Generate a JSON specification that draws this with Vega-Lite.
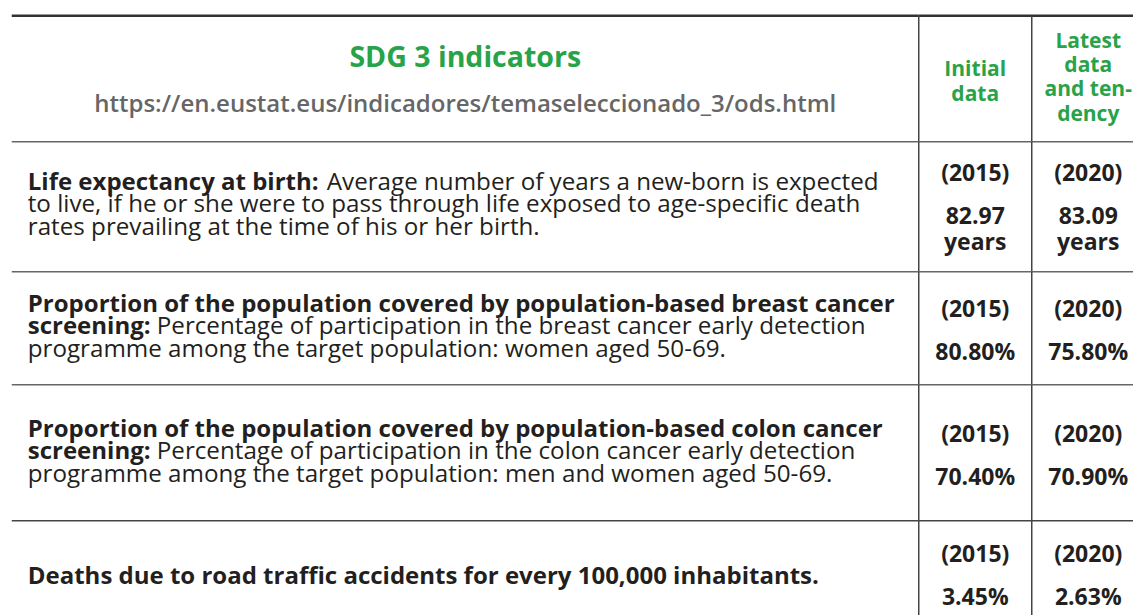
{
  "$schema": "https://vega.github.io/schema/vega-lite/v6.json",
  "background": "white",
  "padding": {"left": 9.75, "top": 13.75, "right": 0, "bottom": 0},
  "autosize": {"type": "pad"},
  "spacing": 0,
  "bounds": "flush",
  "columns": 2,
  "config": {"view": {"stroke": null}, "text": {"font": "Open Sans"}},
  "datasets": {
    "header": [
      {"line": 1, "text": "SDG 3 indicators"},
      {"line": 2, "text": "https://en.eustat.eus/indicadores/temaseleccionado_3/ods.html"}
    ],
    "columns": [
      {"col": "initial", "label": "Initial\ndata"},
      {"col": "latest", "label": "Latest\ndata\nand ten-\ndency"}
    ],
    "indicators": [
      {"row": 1, "line": 1, "part": "name", "text": "Life expectancy at birth:"},
      {"row": 1, "line": 1, "part": "desc", "text": "Average number of years a new-born is expected"},
      {"row": 1, "line": 2, "part": "desc", "text": "to live, if he or she were to pass through life exposed to age-specific death"},
      {"row": 1, "line": 3, "part": "desc", "text": "rates prevailing at the time of his or her birth."},
      {"row": 2, "line": 1, "part": "name", "text": "Proportion of the population covered by population-based breast cancer"},
      {"row": 2, "line": 2, "part": "name", "text": "screening:"},
      {"row": 2, "line": 2, "part": "desc", "text": "Percentage of participation in the breast cancer early detection"},
      {"row": 2, "line": 3, "part": "desc", "text": "programme among the target population: women aged 50-69."},
      {"row": 3, "line": 1, "part": "name", "text": "Proportion of the population covered by population-based colon cancer"},
      {"row": 3, "line": 2, "part": "name", "text": "screening:"},
      {"row": 3, "line": 2, "part": "desc", "text": "Percentage of participation in the colon cancer early detection"},
      {"row": 3, "line": 3, "part": "desc", "text": "programme among the target population: men and women aged 50-69."},
      {"row": 4, "line": 1, "part": "name", "text": "Deaths due to road traffic accidents for every 100,000 inhabitants."}
    ],
    "values": [
      {"row": 1, "col": "initial", "year": "(2015)", "value": "82.97 years"},
      {"row": 1, "col": "latest", "year": "(2020)", "value": "83.09 years"},
      {"row": 2, "col": "initial", "year": "(2015)", "value": "80.80%"},
      {"row": 2, "col": "latest", "year": "(2020)", "value": "75.80%"},
      {"row": 3, "col": "initial", "year": "(2015)", "value": "70.40%"},
      {"row": 3, "col": "latest", "year": "(2020)", "value": "70.90%"},
      {"row": 4, "col": "initial", "year": "(2015)", "value": "3.45%"},
      {"row": 4, "col": "latest", "year": "(2020)", "value": "2.63%"}
    ]
  },
  "concat": [
    {
      "width": 907, "height": 126,
      "layer": [
        {"data": {"values": [{"edge": "top"}]}, "mark": {"type": "rule", "stroke": "#333333", "strokeWidth": 2.5},
         "encoding": {"y": {"datum": -0.1333, "type": "quantitative", "scale": {"domain": [-0.1333, 2.6667], "reverse": true, "nice": false, "zero": false}, "axis": null}}},
        {"data": {"name": "header"}, "transform": [{"filter": "datum.line == 1"}],
         "mark": {"type": "text", "font": "Open Sans", "fontWeight": "bold", "fontSize": 28.5, "color": "#28a34a", "align": "center", "baseline": "alphabetic"},
         "encoding": {"x": {"datum": 0.5, "type": "quantitative", "scale": {"domain": [0, 1]}, "axis": null},
                      "y": {"field": "line", "type": "quantitative", "scale": {"domain": [-0.1333, 2.6667], "reverse": true, "nice": false, "zero": false}, "axis": null},
                      "text": {"field": "text"}}},
        {"data": {"name": "header"}, "transform": [{"filter": "datum.line == 2"}],
         "mark": {"type": "text", "font": "Open Sans", "fontWeight": 600, "fontSize": 24, "color": "#666666", "align": "center", "baseline": "alphabetic"},
         "encoding": {"x": {"datum": 0.5, "type": "quantitative", "scale": {"domain": [0, 1]}, "axis": null},
                      "y": {"field": "line", "type": "quantitative", "scale": {"domain": [-0.1333, 2.6667], "reverse": true, "nice": false, "zero": false}, "axis": null},
                      "text": {"field": "text"}}}
      ]
    },
    {
      "width": 215, "height": 126,
      "layer": [
        {"data": {"values": [{"edge": "top"}]}, "mark": {"type": "rule", "stroke": "#333333", "strokeWidth": 2.5},
         "encoding": {"y": {"datum": 0, "type": "quantitative", "scale": {"domain": [0, 1], "reverse": true, "nice": false, "zero": false}, "axis": null}}},
        {"data": {"name": "columns"}, "mark": {"type": "rule", "stroke": "#444444", "strokeWidth": 1.5},
         "encoding": {"x": {"field": "col", "type": "nominal", "bandPosition": 0, "scale": {"type": "band", "domain": ["initial", "latest"], "range": [0, 226], "paddingInner": 0, "paddingOuter": 0}, "axis": null}}},
        {"data": {"name": "columns"}, "transform": [{"filter": "datum.col == 'initial'"}],
         "mark": {"type": "text", "font": "Open Sans", "fontWeight": "bold", "fontSize": 21, "color": "#28a34a", "align": "center", "baseline": "alphabetic", "lineBreak": "\n", "lineHeight": 25},
         "encoding": {"x": {"field": "col", "type": "nominal", "scale": {"type": "band", "domain": ["initial", "latest"], "range": [0, 226], "paddingInner": 0, "paddingOuter": 0}, "axis": null},
                      "y": {"datum": 0.476, "type": "quantitative", "scale": {"domain": [0, 1], "reverse": true, "nice": false, "zero": false}, "axis": null},
                      "text": {"field": "label"}}},
        {"data": {"name": "columns"}, "transform": [{"filter": "datum.col == 'latest'"}],
         "mark": {"type": "text", "font": "Open Sans", "fontWeight": "bold", "fontSize": 21, "color": "#28a34a", "align": "center", "baseline": "alphabetic", "lineBreak": "\n", "lineHeight": 24.3},
         "encoding": {"x": {"field": "col", "type": "nominal", "scale": {"type": "band", "domain": ["initial", "latest"], "range": [0, 226], "paddingInner": 0, "paddingOuter": 0}, "axis": null},
                      "y": {"datum": 0.254, "type": "quantitative", "scale": {"domain": [0, 1], "reverse": true, "nice": false, "zero": false}, "axis": null},
                      "text": {"field": "label"}}}
      ]
    },
    {
      "width": 907, "height": 130,
      "layer": [
        {"data": {"values": [{"edge": "top"}]}, "mark": {"type": "rule", "stroke": "#666666", "strokeWidth": 1.5},
         "encoding": {"y": {"datum": -1.1333, "type": "quantitative", "scale": {"domain": [-1.1333, 4.6444], "reverse": true, "nice": false, "zero": false}, "axis": null}}},
        {"data": {"name": "indicators"}, "transform": [{"filter": "datum.row == 1 && datum.part == 'name'"}],
         "mark": {"type": "text", "fontWeight": "bold", "fontSize": 24, "color": "#231f20", "align": "left", "baseline": "alphabetic", "dx": 16},
         "encoding": {"x": {"datum": 0, "type": "quantitative", "scale": {"domain": [0, 1]}, "axis": null},
                      "y": {"field": "line", "type": "quantitative", "scale": {"domain": [-1.1333, 4.6444], "reverse": true, "nice": false, "zero": false}, "axis": null},
                      "text": {"field": "text"}}},
        {"data": {"name": "indicators"}, "transform": [{"filter": "datum.row == 1 && datum.part == 'desc' && datum.line == 1"}],
         "mark": {"type": "text", "fontSize": 24.2, "color": "#231f20", "align": "left", "baseline": "alphabetic", "dx": 315},
         "encoding": {"x": {"datum": 0, "type": "quantitative", "scale": {"domain": [0, 1]}, "axis": null},
                      "y": {"field": "line", "type": "quantitative", "scale": {"domain": [-1.1333, 4.6444], "reverse": true, "nice": false, "zero": false}, "axis": null},
                      "text": {"field": "text"}}},
        {"data": {"name": "indicators"}, "transform": [{"filter": "datum.row == 1 && datum.part == 'desc' && datum.line > 1"}],
         "mark": {"type": "text", "fontSize": 24.2, "color": "#231f20", "align": "left", "baseline": "alphabetic", "dx": 16},
         "encoding": {"x": {"datum": 0, "type": "quantitative", "scale": {"domain": [0, 1]}, "axis": null},
                      "y": {"field": "line", "type": "quantitative", "scale": {"domain": [-1.1333, 4.6444], "reverse": true, "nice": false, "zero": false}, "axis": null},
                      "text": {"field": "text"}}}
      ]
    },
    {
      "width": 215, "height": 130,
      "layer": [
        {"data": {"values": [{"edge": "top"}]}, "mark": {"type": "rule", "stroke": "#666666", "strokeWidth": 1.5},
         "encoding": {"y": {"datum": 0.093, "type": "quantitative", "scale": {"domain": [0.093, 3.116], "reverse": true, "nice": false, "zero": false}, "axis": null}}},
        {"data": {"name": "values"}, "transform": [{"filter": "datum.row == 1"}], "mark": {"type": "rule", "stroke": "#444444", "strokeWidth": 1.5},
         "encoding": {"x": {"field": "col", "type": "nominal", "bandPosition": 0, "scale": {"type": "band", "domain": ["initial", "latest"], "range": [0, 226], "paddingInner": 0, "paddingOuter": 0}, "axis": null}}},
        {"data": {"name": "values"}, "transform": [{"filter": "datum.row == 1"}],
         "mark": {"type": "text", "fontWeight": "bold", "fontSize": 23, "color": "#231f20", "align": "center", "baseline": "alphabetic"},
         "encoding": {"x": {"field": "col", "type": "nominal", "scale": {"type": "band", "domain": ["initial", "latest"], "range": [0, 226], "paddingInner": 0, "paddingOuter": 0}, "axis": null},
                      "y": {"datum": 1, "type": "quantitative", "scale": {"domain": [0.093, 3.116], "reverse": true, "nice": false, "zero": false}, "axis": null},
                      "text": {"field": "year"}}},
        {"data": {"name": "values"}, "transform": [{"filter": "datum.row == 1"}],
         "mark": {"type": "text", "fontWeight": "bold", "fontSize": 23, "color": "#231f20", "align": "center", "baseline": "alphabetic", "lineBreak": " ", "lineHeight": 26},
         "encoding": {"x": {"field": "col", "type": "nominal", "scale": {"type": "band", "domain": ["initial", "latest"], "range": [0, 226], "paddingInner": 0, "paddingOuter": 0}, "axis": null},
                      "y": {"datum": 2, "type": "quantitative", "scale": {"domain": [0.093, 3.116], "reverse": true, "nice": false, "zero": false}, "axis": null},
                      "text": {"field": "value"}}}
      ]
    },
    {
      "width": 907, "height": 113,
      "layer": [
        {"data": {"values": [{"edge": "top"}]}, "mark": {"type": "rule", "stroke": "#666666", "strokeWidth": 1.5},
         "encoding": {"y": {"datum": -0.7778, "type": "quantitative", "scale": {"domain": [-0.7778, 4.2444], "reverse": true, "nice": false, "zero": false}, "axis": null}}},
        {"data": {"name": "indicators"}, "transform": [{"filter": "datum.row == 2 && datum.part == 'name'"}],
         "mark": {"type": "text", "fontWeight": "bold", "fontSize": 24, "color": "#231f20", "align": "left", "baseline": "alphabetic", "dx": 16},
         "encoding": {"x": {"datum": 0, "type": "quantitative", "scale": {"domain": [0, 1]}, "axis": null},
                      "y": {"field": "line", "type": "quantitative", "scale": {"domain": [-0.7778, 4.2444], "reverse": true, "nice": false, "zero": false}, "axis": null},
                      "text": {"field": "text"}}},
        {"data": {"name": "indicators"}, "transform": [{"filter": "datum.row == 2 && datum.part == 'desc' && datum.line == 2"}],
         "mark": {"type": "text", "fontSize": 24.2, "color": "#231f20", "align": "left", "baseline": "alphabetic", "dx": 145},
         "encoding": {"x": {"datum": 0, "type": "quantitative", "scale": {"domain": [0, 1]}, "axis": null},
                      "y": {"field": "line", "type": "quantitative", "scale": {"domain": [-0.7778, 4.2444], "reverse": true, "nice": false, "zero": false}, "axis": null},
                      "text": {"field": "text"}}},
        {"data": {"name": "indicators"}, "transform": [{"filter": "datum.row == 2 && datum.part == 'desc' && datum.line == 3"}],
         "mark": {"type": "text", "fontSize": 24.2, "color": "#231f20", "align": "left", "baseline": "alphabetic", "dx": 16},
         "encoding": {"x": {"datum": 0, "type": "quantitative", "scale": {"domain": [0, 1]}, "axis": null},
                      "y": {"field": "line", "type": "quantitative", "scale": {"domain": [-0.7778, 4.2444], "reverse": true, "nice": false, "zero": false}, "axis": null},
                      "text": {"field": "text"}}}
      ]
    },
    {
      "width": 215, "height": 113,
      "layer": [
        {"data": {"values": [{"edge": "top"}]}, "mark": {"type": "rule", "stroke": "#666666", "strokeWidth": 1.5},
         "encoding": {"y": {"datum": -0.047, "type": "quantitative", "scale": {"domain": [-0.047, 2.581], "reverse": true, "nice": false, "zero": false}, "axis": null}}},
        {"data": {"name": "values"}, "transform": [{"filter": "datum.row == 2"}], "mark": {"type": "rule", "stroke": "#444444", "strokeWidth": 1.5},
         "encoding": {"x": {"field": "col", "type": "nominal", "bandPosition": 0, "scale": {"type": "band", "domain": ["initial", "latest"], "range": [0, 226], "paddingInner": 0, "paddingOuter": 0}, "axis": null}}},
        {"data": {"name": "values"}, "transform": [{"filter": "datum.row == 2"}],
         "mark": {"type": "text", "fontWeight": "bold", "fontSize": 23, "color": "#231f20", "align": "center", "baseline": "alphabetic"},
         "encoding": {"x": {"field": "col", "type": "nominal", "scale": {"type": "band", "domain": ["initial", "latest"], "range": [0, 226], "paddingInner": 0, "paddingOuter": 0}, "axis": null},
                      "y": {"datum": 1, "type": "quantitative", "scale": {"domain": [-0.047, 2.581], "reverse": true, "nice": false, "zero": false}, "axis": null},
                      "text": {"field": "year"}}},
        {"data": {"name": "values"}, "transform": [{"filter": "datum.row == 2"}],
         "mark": {"type": "text", "fontWeight": "bold", "fontSize": 23, "color": "#231f20", "align": "center", "baseline": "alphabetic"},
         "encoding": {"x": {"field": "col", "type": "nominal", "scale": {"type": "band", "domain": ["initial", "latest"], "range": [0, 226], "paddingInner": 0, "paddingOuter": 0}, "axis": null},
                      "y": {"datum": 2, "type": "quantitative", "scale": {"domain": [-0.047, 2.581], "reverse": true, "nice": false, "zero": false}, "axis": null},
                      "text": {"field": "value"}}}
      ]
    },
    {
      "width": 907, "height": 136,
      "layer": [
        {"data": {"values": [{"edge": "top"}]}, "mark": {"type": "rule", "stroke": "#666666", "strokeWidth": 1.5},
         "encoding": {"y": {"datum": -1.3111, "type": "quantitative", "scale": {"domain": [-1.3111, 4.7333], "reverse": true, "nice": false, "zero": false}, "axis": null}}},
        {"data": {"name": "indicators"}, "transform": [{"filter": "datum.row == 3 && datum.part == 'name'"}],
         "mark": {"type": "text", "fontWeight": "bold", "fontSize": 24, "color": "#231f20", "align": "left", "baseline": "alphabetic", "dx": 16},
         "encoding": {"x": {"datum": 0, "type": "quantitative", "scale": {"domain": [0, 1]}, "axis": null},
                      "y": {"field": "line", "type": "quantitative", "scale": {"domain": [-1.3111, 4.7333], "reverse": true, "nice": false, "zero": false}, "axis": null},
                      "text": {"field": "text"}}},
        {"data": {"name": "indicators"}, "transform": [{"filter": "datum.row == 3 && datum.part == 'desc' && datum.line == 2"}],
         "mark": {"type": "text", "fontSize": 24.2, "color": "#231f20", "align": "left", "baseline": "alphabetic", "dx": 145},
         "encoding": {"x": {"datum": 0, "type": "quantitative", "scale": {"domain": [0, 1]}, "axis": null},
                      "y": {"field": "line", "type": "quantitative", "scale": {"domain": [-1.3111, 4.7333], "reverse": true, "nice": false, "zero": false}, "axis": null},
                      "text": {"field": "text"}}},
        {"data": {"name": "indicators"}, "transform": [{"filter": "datum.row == 3 && datum.part == 'desc' && datum.line == 3"}],
         "mark": {"type": "text", "fontSize": 24.2, "color": "#231f20", "align": "left", "baseline": "alphabetic", "dx": 16},
         "encoding": {"x": {"datum": 0, "type": "quantitative", "scale": {"domain": [0, 1]}, "axis": null},
                      "y": {"field": "line", "type": "quantitative", "scale": {"domain": [-1.3111, 4.7333], "reverse": true, "nice": false, "zero": false}, "axis": null},
                      "text": {"field": "text"}}}
      ]
    },
    {
      "width": 215, "height": 136,
      "layer": [
        {"data": {"values": [{"edge": "top"}]}, "mark": {"type": "rule", "stroke": "#666666", "strokeWidth": 1.5},
         "encoding": {"y": {"datum": -0.326, "type": "quantitative", "scale": {"domain": [-0.326, 2.837], "reverse": true, "nice": false, "zero": false}, "axis": null}}},
        {"data": {"name": "values"}, "transform": [{"filter": "datum.row == 3"}], "mark": {"type": "rule", "stroke": "#444444", "strokeWidth": 1.5},
         "encoding": {"x": {"field": "col", "type": "nominal", "bandPosition": 0, "scale": {"type": "band", "domain": ["initial", "latest"], "range": [0, 226], "paddingInner": 0, "paddingOuter": 0}, "axis": null}}},
        {"data": {"name": "values"}, "transform": [{"filter": "datum.row == 3"}],
         "mark": {"type": "text", "fontWeight": "bold", "fontSize": 23, "color": "#231f20", "align": "center", "baseline": "alphabetic"},
         "encoding": {"x": {"field": "col", "type": "nominal", "scale": {"type": "band", "domain": ["initial", "latest"], "range": [0, 226], "paddingInner": 0, "paddingOuter": 0}, "axis": null},
                      "y": {"datum": 1, "type": "quantitative", "scale": {"domain": [-0.326, 2.837], "reverse": true, "nice": false, "zero": false}, "axis": null},
                      "text": {"field": "year"}}},
        {"data": {"name": "values"}, "transform": [{"filter": "datum.row == 3"}],
         "mark": {"type": "text", "fontWeight": "bold", "fontSize": 23, "color": "#231f20", "align": "center", "baseline": "alphabetic"},
         "encoding": {"x": {"field": "col", "type": "nominal", "scale": {"type": "band", "domain": ["initial", "latest"], "range": [0, 226], "paddingInner": 0, "paddingOuter": 0}, "axis": null},
                      "y": {"datum": 2, "type": "quantitative", "scale": {"domain": [-0.326, 2.837], "reverse": true, "nice": false, "zero": false}, "axis": null},
                      "text": {"field": "value"}}}
      ]
    },
    {
      "width": 907, "height": 95,
      "layer": [
        {"data": {"values": [{"edge": "top"}]}, "mark": {"type": "rule", "stroke": "#444444", "strokeWidth": 1.5},
         "encoding": {"y": {"datum": -1.8, "type": "quantitative", "scale": {"domain": [-1.8, 2.4222], "reverse": true, "nice": false, "zero": false}, "axis": null}}},
        {"data": {"name": "indicators"}, "transform": [{"filter": "datum.row == 4 && datum.part == 'name'"}],
         "mark": {"type": "text", "fontWeight": "bold", "fontSize": 24, "color": "#231f20", "align": "left", "baseline": "alphabetic", "dx": 16},
         "encoding": {"x": {"datum": 0, "type": "quantitative", "scale": {"domain": [0, 1]}, "axis": null},
                      "y": {"field": "line", "type": "quantitative", "scale": {"domain": [-1.8, 2.4222], "reverse": true, "nice": false, "zero": false}, "axis": null},
                      "text": {"field": "text"}}}
      ]
    },
    {
      "width": 215, "height": 95,
      "layer": [
        {"data": {"values": [{"edge": "top"}]}, "mark": {"type": "rule", "stroke": "#444444", "strokeWidth": 1.5},
         "encoding": {"y": {"datum": 0.047, "type": "quantitative", "scale": {"domain": [0.047, 2.256], "reverse": true, "nice": false, "zero": false}, "axis": null}}},
        {"data": {"name": "values"}, "transform": [{"filter": "datum.row == 4"}], "mark": {"type": "rule", "stroke": "#444444", "strokeWidth": 1.5},
         "encoding": {"x": {"field": "col", "type": "nominal", "bandPosition": 0, "scale": {"type": "band", "domain": ["initial", "latest"], "range": [0, 226], "paddingInner": 0, "paddingOuter": 0}, "axis": null}}},
        {"data": {"name": "values"}, "transform": [{"filter": "datum.row == 4"}],
         "mark": {"type": "text", "fontWeight": "bold", "fontSize": 23, "color": "#231f20", "align": "center", "baseline": "alphabetic"},
         "encoding": {"x": {"field": "col", "type": "nominal", "scale": {"type": "band", "domain": ["initial", "latest"], "range": [0, 226], "paddingInner": 0, "paddingOuter": 0}, "axis": null},
                      "y": {"datum": 1, "type": "quantitative", "scale": {"domain": [0.047, 2.256], "reverse": true, "nice": false, "zero": false}, "axis": null},
                      "text": {"field": "year"}}},
        {"data": {"name": "values"}, "transform": [{"filter": "datum.row == 4"}],
         "mark": {"type": "text", "fontWeight": "bold", "fontSize": 23, "color": "#231f20", "align": "center", "baseline": "alphabetic"},
         "encoding": {"x": {"field": "col", "type": "nominal", "scale": {"type": "band", "domain": ["initial", "latest"], "range": [0, 226], "paddingInner": 0, "paddingOuter": 0}, "axis": null},
                      "y": {"datum": 2, "type": "quantitative", "scale": {"domain": [0.047, 2.256], "reverse": true, "nice": false, "zero": false}, "axis": null},
                      "text": {"field": "value"}}}
      ]
    }
  ]
}
